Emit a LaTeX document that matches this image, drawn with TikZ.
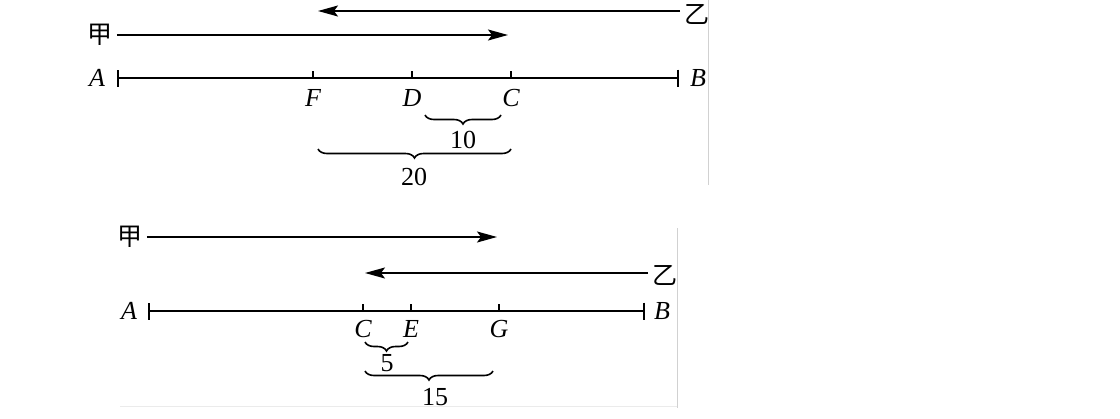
\documentclass[tikz,border=0pt]{standalone}
\usepackage{fontspec}
\setmainfont{Liberation Serif}
\newfontfamily\cjk{Noto Sans CJK SC}
\usepackage{tikz}
\usetikzlibrary{arrows.meta,decorations.pathreplacing}

\tikzset{
    axisline/.style={line width=1pt,{Bar[width=8.5pt]}-{Bar[width=8.5pt]}},
    tickmark/.style={line width=0.8pt},
    movearrow/.style={line width=0.8pt,-{Stealth[length=10pt,width=5.5pt,inset=2pt]}},
    bracebelow/.style={line width=0.8pt,decorate,decoration={brace,mirror,amplitude=4.5pt}},
    cjklabel/.style={font=\cjk\fontsize{12.5}{14}\selectfont,inner sep=2pt},
    ptlabel/.style={font=\fontsize{13}{15}\selectfont\itshape,inner sep=0pt},
    numlabel/.style={font=\fontsize{13}{15}\selectfont,inner sep=0pt},
    edgeline/.style={line width=0.4pt,black!18}
}

\begin{document}
\begin{tikzpicture}[x=0.5pt,y=-0.5pt]
        \useasboundingbox (0,0) rectangle (1120,418);

        % first picture
        \node[cjklabel] (yi1) at (697,14) {乙};
        \coordinate (yi1end) at (318,11);
        \draw[movearrow] (yi1.west |- yi1end) -- (yi1end);
        \node[cjklabel] (jia1) at (100,35) {甲};
        \coordinate (jia1end) at (508,35);
        \draw[movearrow] (jia1.east) -- (jia1end);

        \coordinate (pA1) at (117,78);
        \coordinate (pB1) at (679,78);
        \draw[axisline] (pA1) -- (pB1);
        \node[ptlabel] (A1) at (97,78) {A};
        \node[ptlabel] (B1) at (698,78) {B};
        \foreach \name/\x in {F/313,D/412,C/511}{
            \coordinate (t\name1) at (\x,78);
            \draw[tickmark] (t\name1) -- ++(0,-7);
            \node[ptlabel] (lab\name1) at (\x,98) {\name};
        }

        \draw[bracebelow] (425,115) -- (501,115);
        \node[numlabel] (len10) at (463,140) {10};
        \draw[bracebelow] (318,149) -- (511,149);
        \node[numlabel] (len20) at (414,177) {20};

        \draw[edgeline] (708,0) -- (708,185);

        % second picture
        \node[cjklabel] (jia2) at (130,237) {甲};
        \coordinate (jia2end) at (497,237);
        \draw[movearrow] (jia2.east) -- (jia2end);
        \node[cjklabel] (yi2) at (665,275) {乙};
        \coordinate (yi2end) at (365,273);
        \draw[movearrow] (yi2.west |- yi2end) -- (yi2end);

        \coordinate (pA2) at (148,311);
        \coordinate (pB2) at (645,311);
        \draw[axisline] (pA2) -- (pB2);
        \node[ptlabel] (A2) at (129,311) {A};
        \node[ptlabel] (B2) at (662,311) {B};
        \foreach \name/\x in {C/363,E/411,G/499}{
            \coordinate (t\name2) at (\x,311);
            \draw[tickmark] (t\name2) -- ++(0,-7);
            \node[ptlabel] (lab\name2) at (\x,329) {\name};
        }

        \draw[bracebelow] (365,342) -- (408,342);
        \node[numlabel] (len5) at (387,363) {5};
        \draw[bracebelow] (365,371) -- (493,371);
        \node[numlabel] (len15) at (435,397) {15};

        \draw[edgeline] (677,228) -- (677,408);
        \draw[black!8,line width=0.4pt] (120,406) -- (677,406);
\end{tikzpicture}
\end{document}
